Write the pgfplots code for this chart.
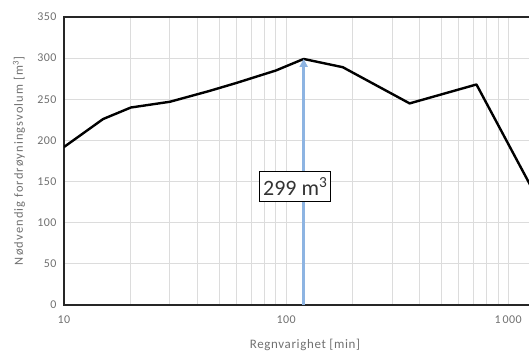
\documentclass[border=0pt]{standalone}
\usepackage{fontspec}
\setmainfont{Carlito}
\usepackage{pgfplots}
\pgfplotsset{compat=1.18}
\usetikzlibrary{arrows.meta}
\definecolor{txt}{HTML}{707070}
\definecolor{grd}{HTML}{DCDCDC}
\definecolor{arr}{HTML}{8DB4E2}
\begin{document}
\begin{tikzpicture}
\begin{axis}[
  scale only axis, width=511bp, height=288bp,
  xmode=log, log basis x=10,
  xmin=10, xmax=2000, ymin=0, ymax=350,
  ytick={0,50,...,350},
  xtick={10,100,1000}, xticklabels={10,100,1\,000},
  minor xtick={20,30,40,50,60,70,80,90,200,300,400,500,600,700,800,900,2000},
  ymajorgrids, xmajorgrids, xminorgrids,
  major grid style={grd, line width=1bp},
  minor grid style={grd, line width=1bp},
  major tick style={draw=none}, minor tick style={draw=none},
  axis line style={black!85, line width=1.5bp},
  /pgf/number format/assume math mode=true,
  tick label style={font=\fontsize{12}{13}\selectfont\addfontfeature{LetterSpace=4}, text=txt},
  xticklabel style={yshift=-7bp},
  yticklabel style={xshift=-4bp},
  clip mode=individual,
]
\addplot[black, line width=2.4bp, line join=round] coordinates {
  (10,192) (15,226) (20,240) (30,247) (45,260) (60,270) (90,285)
  (120,299) (180,289) (360,245) (720,268) (1440,116)
};
\draw[arr, line width=2.6bp, -{Triangle[length=8bp,width=8bp]}] (axis cs:120,0) -- (axis cs:120,299);
\node[draw=black, fill=white, line width=1.3bp, text=black!80, font=\fontsize{22}{23}\selectfont, inner xsep=3.5bp, inner ysep=6bp] at (axis cs:110,144) {299 m\textsuperscript{3}};
\node[rotate=90, text=txt, font=\fontsize{12.5}{13}\selectfont\addfontfeature{LetterSpace=9}] at ([xshift=-45bp]rel axis cs:0,0.5) {Nødvendig fordrøyningsvolum [m\textsuperscript{3}]};
\node[text=txt, font=\fontsize{13}{14}\selectfont\addfontfeature{LetterSpace=5}] at ([xshift=241bp,yshift=-40bp]rel axis cs:0,0) {Regnvarighet [min]};
\coordinate (O) at (rel axis cs:0,0);
\coordinate (T) at (rel axis cs:0,1);
\end{axis}
\pgfresetboundingbox
\path ([xshift=-64bp,yshift=-49bp]O) rectangle ([xshift=465bp,yshift=17bp]T);
\end{tikzpicture}
\end{document}
